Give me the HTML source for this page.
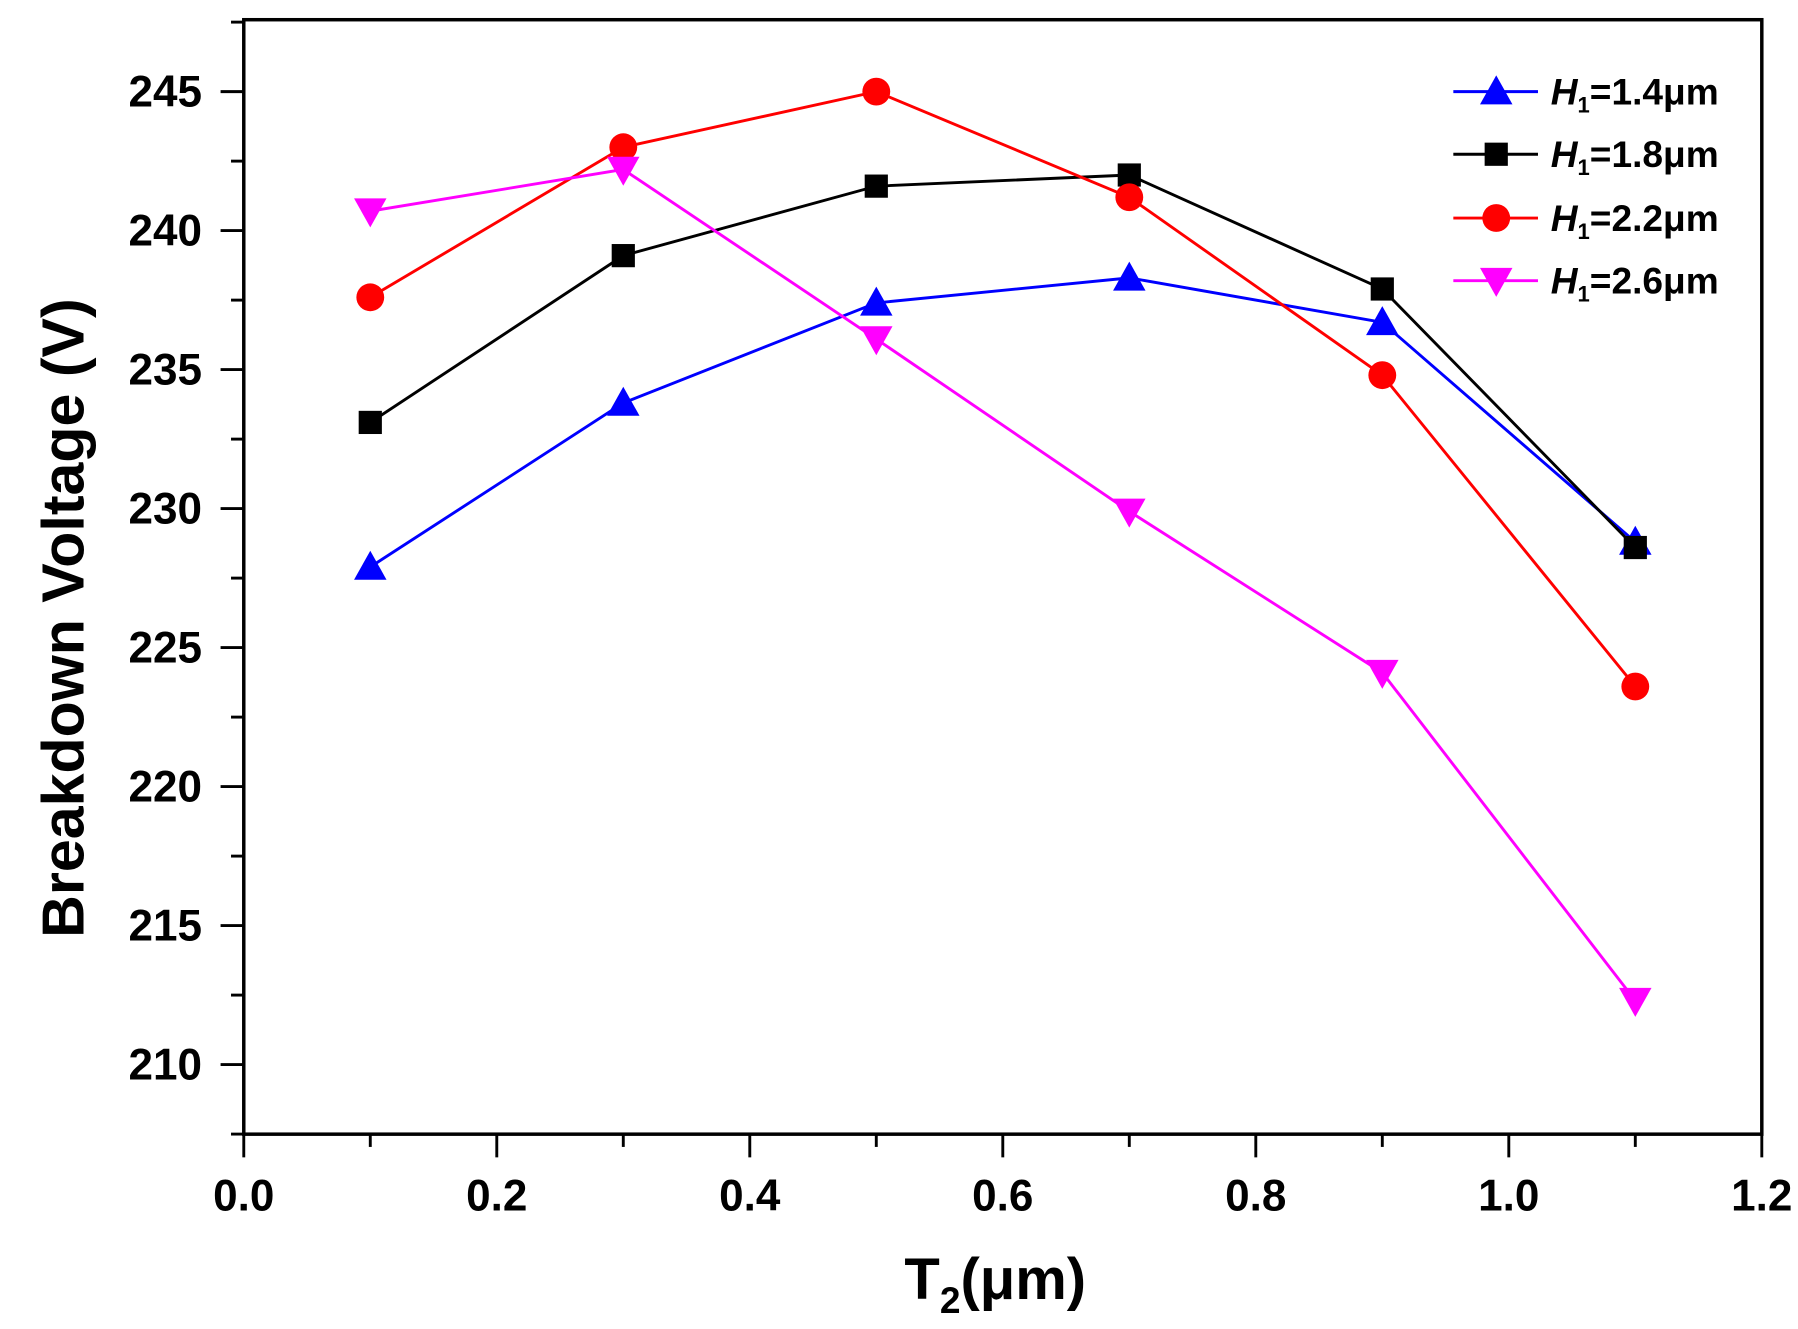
<!DOCTYPE html>
<html><head><meta charset="utf-8"><style>
html,body{margin:0;padding:0;background:#fff;}
svg{display:block;}
text{font-family:"Liberation Sans",Arial,sans-serif;font-weight:bold;fill:#000;}
</style></head><body>
<svg id="chart" width="1798" height="1329" viewBox="0 0 1550 1146" xmlns="http://www.w3.org/2000/svg">
<g id="axes"></g><g id="series"></g><g id="legend"></g>
</svg>
<script>
const xValues=[0.1,0.3,0.5,0.7,0.9,1.1];
const seriesNames=["H1=1.4μm","H1=1.8μm","H1=2.2μm","H1=2.6μm"];
const blueVals=[227.9,233.8,237.4,238.3,236.7,228.8];
const blackVals=[233.1,239.1,241.6,242.0,237.9,228.6];
const redVals=[237.6,243.0,245.0,241.2,234.8,223.6];
const magentaVals=[240.7,242.2,236.1,229.9,224.1,212.3];
const xTicks=["0.0","0.2","0.4","0.6","0.8","1.0","1.2"];
const yTicks=["210","215","220","225","230","235","240","245"];

const NS="http://www.w3.org/2000/svg";
const L=210,R=1519,T=17,B=978;
const X=v=>L+(v-0)/1.2*(R-L);
const Y=v=>79+(245-v)*(918-79)/35;
function mk(tag,attrs,parent){const e=document.createElementNS(NS,tag);for(const k in attrs)e.setAttribute(k,attrs[k]);parent.appendChild(e);return e;}
const axes=document.getElementById('axes');
const box=mk('rect',{x:L,y:T,width:R-L,height:B-T,fill:'none',stroke:'#000','stroke-width':3},axes);


for(let i=0;i<=12;i++){const v=i*0.1;const x=X(v);const major=i%2===0;
 const t=mk('line',{x1:x,y1:B,x2:x,y2:B+(major?20:11),stroke:'#000','stroke-width':2.5},axes);
 
 
 if(major){const lb=mk('text',{x:x,y:B+66,'font-size':38,'text-anchor':'middle'},axes);lb.textContent=xTicks[i/2];
 
 }
}
for(let v=207.5;v<=247.5;v+=2.5){const y=Y(v);const major=Math.abs(v%5)<0.01;
 const t=mk('line',{x1:L,y1:y,x2:L-(major?20:11),y2:y,stroke:'#000','stroke-width':2.5},axes);
 
 
 if(major){const idx=yTicks.indexOf(String(v));if(idx>=0){const lb=mk('text',{x:L-36,y:y+13,'font-size':38,'text-anchor':'end'},axes);lb.textContent=yTicks[idx];
 
 }}
}
const xt=mk('text',{x:858,y:1120,'font-size':50,'text-anchor':'middle'},axes);
xt.innerHTML='T<tspan font-size="32" dy="12">2</tspan><tspan dy="-12">(μm)</tspan>';


const yt=mk('text',{x:72,y:533,'font-size':51,'text-anchor':'middle',transform:'rotate(-90 72 533)'},axes);
yt.textContent='Breakdown Voltage (V)';



function marker(shape,x,y,color,parent){let e;
 if(shape==='tri-up')e=mk('polygon',{points:`${x},${y-14} ${x-14},${y+11} ${x+14},${y+11}`,fill:color},parent);
 else if(shape==='square')e=mk('rect',{x:x-10,y:y-10,width:20,height:20,fill:color},parent);
 else if(shape==='circle')e=mk('circle',{cx:x,cy:y,r:12,fill:color},parent);
 else e=mk('polygon',{points:`${x},${y+14} ${x-14},${y-11} ${x+14},${y-11}`,fill:color},parent);
 return e;}
const seriesDefs=[[blueVals,'#0000ff','tri-up','series-h1-1-4'],[blackVals,'#000000','square','series-h1-1-8'],[redVals,'#ff0000','circle','series-h1-2-2'],[magentaVals,'#ff00ff','tri-down','series-h1-2-6']];
const sg=document.getElementById('series');
seriesDefs.forEach(([vals,color,shape,name])=>{
 const g=mk('g',{},sg);
 
 
 const pl=mk('polyline',{points:vals.map((v,i)=>X(xValues[i])+','+Y(v)).join(' '),fill:'none',stroke:color,'stroke-width':2.5},g);
 
 
 vals.forEach((v,i)=>{const m=marker(shape,X(xValues[i]),Y(v),color,g);
  
  });
});
const lg=document.getElementById('legend');
const ly=[79,133,188,242];
seriesDefs.forEach(([vals,color,shape,name],i)=>{
 const g=mk('g',{},lg);
 
 
 mk('line',{x1:1253,y1:ly[i],x2:1326,y2:ly[i],stroke:color,'stroke-width':2.5},g);
 marker(shape,1290,ly[i],color,g);
 const t=mk('text',{x:1337,y:ly[i]+11,'font-size':32},g);
 const nm=seriesNames[i];
 t.innerHTML='<tspan font-style="italic">H</tspan><tspan font-size="19" dy="7">1</tspan><tspan dy="-7">'+nm.slice(2)+'</tspan>';
});
</script>
</body></html>
